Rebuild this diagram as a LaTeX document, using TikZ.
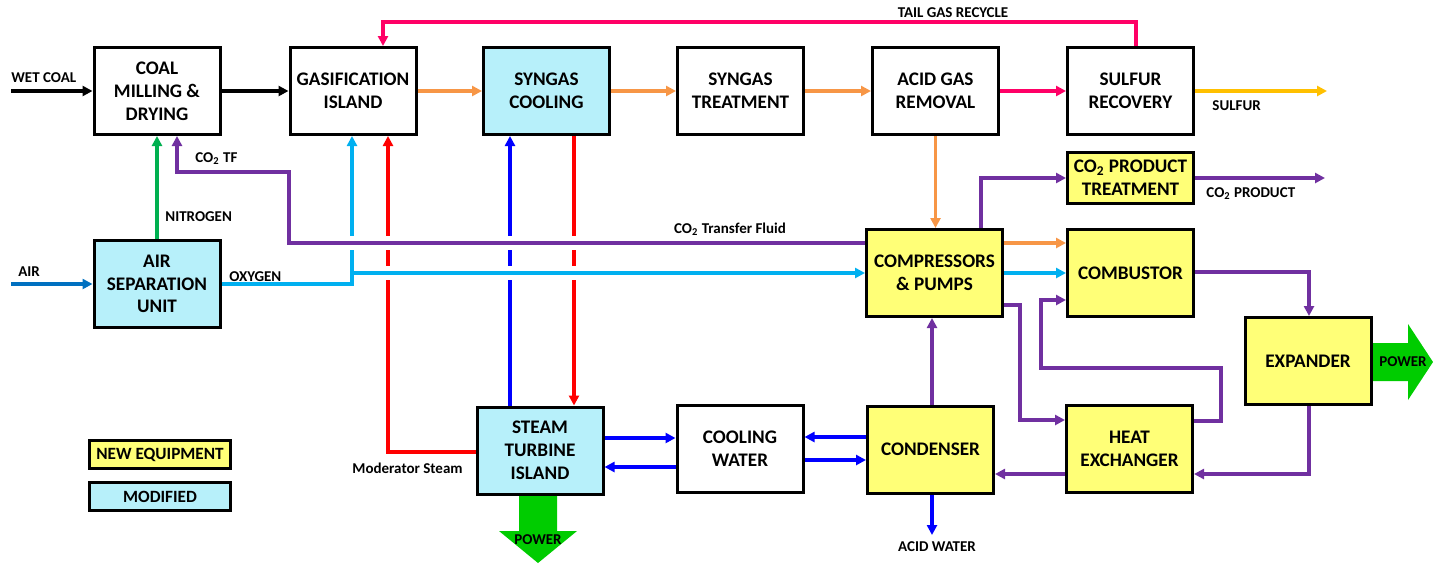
\documentclass[tikz,border=0pt]{standalone}
\usepackage{fontspec}
\setmainfont{Carlito}
\usetikzlibrary{arrows.meta,positioning}
\definecolor{newyellow}{RGB}{255,255,119}
\definecolor{modcyan}{RGB}{183,240,250}
\definecolor{syngasorange}{RGB}{247,150,70}
\definecolor{tailpink}{RGB}{255,0,102}
\definecolor{sulfurgold}{RGB}{255,192,0}
\definecolor{co2purple}{RGB}{112,48,160}
\definecolor{oxycyan}{RGB}{0,176,240}
\definecolor{waterblue}{RGB}{0,0,255}
\definecolor{steamred}{RGB}{255,0,0}
\definecolor{nitrogreen}{RGB}{0,176,80}
\definecolor{airblue}{RGB}{0,112,192}
\definecolor{powergreen}{RGB}{0,204,0}

\begin{document}
\begin{tikzpicture}[x=0.5pt, y=-0.5pt,
  unitbox/.style={draw, line width=1.5pt, minimum width=63pt, minimum height=43.5pt,
    align=center, inner sep=1pt, font=\bfseries\fontsize{9.6}{11.4}\selectfont},
  newbox/.style={unitbox, fill=newyellow},
  modbox/.style={unitbox, fill=modcyan},
  legbox/.style={minimum width=70.5pt, minimum height=14pt, font=\bfseries\fontsize{8.6}{10}\selectfont},
  flow/.style={line width=1.6pt, -{Triangle[length=5pt,width=5pt]}},
  crossgap/.style={draw=white, line width=7pt},
  lbl/.style={font=\bfseries\fontsize{7.5}{9}\selectfont, inner sep=0pt},
  powerarrow/.style={fill=powergreen}]

\useasboundingbox (0,0) rectangle (1433,563);

% power outputs
\fill[powerarrow] (519,495) -- (557,495) -- (557,531) -- (577,531) -- (538,563)
  -- (499,531) -- (519,531) -- cycle;
\fill[powerarrow] (1372,343) -- (1408,343) -- (1408,324) -- (1433,362) -- (1408,400)
  -- (1408,381) -- (1372,381) -- cycle;

% process units
\node[unitbox] (coal) at (157,91) {COAL\\MILLING \&\\DRYING};
\node[unitbox] (gasif) at (353,91) {GASIFICATION\\ISLAND};
\node[modbox] (sgcool) at (546.5,91) {SYNGAS\\COOLING};
\node[unitbox] (sgtreat) at (740.5,91) {SYNGAS\\TREATMENT};
\node[unitbox] (agr) at (935.5,91) {ACID GAS\\REMOVAL};
\node[unitbox] (sulfur) at (1130.5,91) {SULFUR\\RECOVERY};
\node[newbox, minimum height=25.5pt] (co2pt) at (1130.5,178) {CO\textsubscript{2} PRODUCT\\TREATMENT};
\node[modbox] (asu) at (157,284) {AIR\\SEPARATION\\UNIT};
\node[newbox, minimum width=68pt] (comp) at (934.5,273) {COMPRESSORS\\\& PUMPS};
\node[newbox] (comb) at (1130.5,273) {COMBUSTOR};
\node[newbox] (exp) at (1308,361) {EXPANDER};
\node[newbox] (hx) at (1129.5,449) {HEAT\\EXCHANGER};
\node[newbox] (cond) at (930.5,449.5) {CONDENSER};
\node[unitbox] (cw) at (740,449) {COOLING\\WATER};
\node[modbox] (st) at (540,450.5) {STEAM\\TURBINE\\ISLAND};

% legend
\node[newbox, legbox] (legnew) at (160,454.5) {NEW EQUIPMENT};
\node[modbox, legbox] (legmod) at (160,496.5) {MODIFIED};

% free ends
\coordinate (wetcoalin) at (11,91);
\coordinate (airin) at (11,284);
\coordinate (sulfurout) at (1327,91);
\coordinate (co2out) at (1325,178);
\coordinate (acidout) at (932,535);
\coordinate (tailgas) at (1136,22);
\coordinate (hxbend) at (1020,420);
\coordinate (hxloopa) at (1221,368);
\coordinate (hxloopb) at (1041,300);
\coordinate (co2tfbend) at (289,172);
\coordinate (oxyjoin) at (352,273);

% gas train
\draw[flow] (wetcoalin) -- (coal);
\draw[flow] (coal) -- (gasif);
\draw[flow, syngasorange] (gasif) -- (sgcool);
\draw[flow, syngasorange] (sgcool) -- (sgtreat);
\draw[flow, syngasorange] (sgtreat) -- (agr);
\draw[flow, tailpink] (agr) -- (sulfur);
\draw[flow, sulfurgold] (sulfur) -- (sulfurout);
\draw[flow, tailpink] (sulfur.north -| tailgas) -- (tailgas) -| (gasif.north -| 383,0);
\draw[flow, syngasorange] (agr.south) -- (agr.south |- comp.north);

% CO2 cycle
\draw[flow, co2purple] (comp.north -| 981,0) |- (co2pt.west);
\draw[flow, co2purple] (co2pt) -- (co2out);
\draw[flow, syngasorange] (comp.east |- 0,243) -- (comb.west |- 0,243);
\draw[flow, oxycyan] (comp) -- (comb);
\draw[flow, co2purple] (comp.east |- 0,305) -| (hxbend) -- (hx.west |- hxbend);
\draw[flow, co2purple] (hx.east |- 0,421) -| (hxloopa) -| (hxloopb) -- (comb.west |- hxloopb);
\draw[flow, co2purple] (comb.east |- 0,272) -| (exp.north -| 1309,0);
\draw[flow, co2purple] (exp.south -| 1309,0) |- (hx.east |- 0,474);
\draw[flow, co2purple] (hx.west |- 0,474) -- (cond.east |- 0,474);
\draw[flow, co2purple] (cond.north -| 932,0) -- (comp.south -| 932,0);

% water and steam
\draw[flow, waterblue] (cond.south -| 932,0) -- (acidout);
\draw[flow, waterblue] (cond.west |- 0,437) -- (cw.east |- 0,437);
\draw[flow, waterblue] (cw.east |- 0,460) -- (cond.west |- 0,460);
\draw[flow, waterblue] (st.east |- 0,438) -- (cw.west |- 0,438);
\draw[flow, waterblue] (cw.west |- 0,467) -- (st.east |- 0,467);
\draw[flow, steamred] (st.west |- 0,452) -| (gasif.south -| 388,0);
\draw[flow, waterblue] (st.north -| 510,0) -- (sgcool.south -| 510,0);
\draw[flow, steamred] (sgcool.south -| 574,0) -- (st.north -| 574,0);

% oxygen, CO2 transfer fluid (crossing lines jump over)
\draw[crossgap] (360,273) -- (comp.west);
\draw[flow, oxycyan] (oxyjoin) -- (comp.west);
\draw[flow, oxycyan] (asu.east) -| (gasif.south -| 352,0);
\draw[crossgap] (289,243) -- (comp.west |- 0,243);
\draw[flow, co2purple] (comp.west |- 0,243) -| (co2tfbend) -| (coal.south -| 177,0);
\draw[flow, nitrogreen] (asu) -- (coal);
\draw[flow, airblue] (airin) -- (asu);

% labels
\node[lbl, anchor=west] (wetcoallbl) at (11,78) {WET COAL};
\node[lbl, anchor=west] (airlbl) at (18,272) {AIR};
\node[lbl, anchor=west] (nitrolbl) at (165,217) {NITROGEN};
\node[lbl, anchor=west] (co2tflbl) at (195,159) {CO\textsubscript{2} TF};
\node[lbl, anchor=west] (oxylbl) at (229,277) {OXYGEN};
\node[lbl] (co2tfluidlbl) at (730,229) {CO\textsubscript{2} Transfer Fluid};
\node[lbl] (tailgaslbl) at (953,13) {TAIL GAS RECYCLE};
\node[lbl, anchor=west] (sulfurlbl) at (1212,106) {SULFUR};
\node[lbl, anchor=west] (co2prodlbl) at (1206,194) {CO\textsubscript{2} PRODUCT};
\node[lbl] (acidlbl) at (937,547) {ACID WATER};
\node[lbl, anchor=east] (modsteamlbl) at (463,468) {Moderator Steam};
\node[lbl] (stpowerlbl) at (538,540) {POWER};
\node[lbl] (exppowerlbl) at (1403,362) {POWER};
\end{tikzpicture}
\end{document}
